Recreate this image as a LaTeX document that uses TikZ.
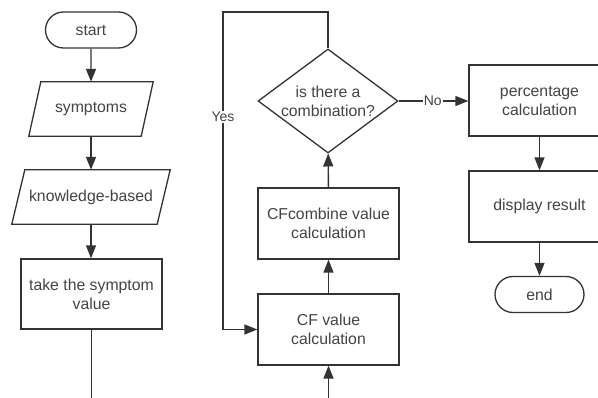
\documentclass[tikz,border=0pt]{standalone}
\usepackage{fontspec}
\setmainfont{Liberation Sans}
\usetikzlibrary{shapes.geometric,shapes.misc,arrows.meta}
\definecolor{ln}{HTML}{333333}
\definecolor{tx}{HTML}{444444}
\tikzset{
  every node/.style={font=\fontsize{15.8}{19}\selectfont, text=tx, align=center},
  conn/.style={draw=ln, line width=1.4pt},
  arr/.style={conn, -{Triangle[length=13pt,width=10pt]}},
  outline/.style={draw=ln, line width=1.3pt, line join=miter},
  term/.style={draw=ln, line width=1.3pt, rounded rectangle, minimum width=89pt, minimum height=36pt, inner sep=0pt},
  io/.style={rectangle, minimum height=54pt, inner sep=0pt},
  proc/.style={draw=ln, line width=1.3pt, rectangle, minimum width=141pt, minimum height=71pt, inner sep=0pt},
  dec/.style={draw=ln, line width=1.3pt, diamond, minimum width=140pt, minimum height=104pt, inner sep=0pt},
  lab/.style={fill=white, inner sep=1pt, font=\fontsize{14}{16}\selectfont}
}
\begin{document}
\begin{tikzpicture}[x=1pt,y=-1pt]
\useasboundingbox[fill=white] (0,0) rectangle (598,398);
% left column
\node[term, minimum width=91pt] (start) at (91,30) {start};
\node[io, minimum width=112pt] (sym) at (91,109) {symptoms};
\draw[outline] ([xshift=-6pt]sym.south west) -- ([xshift=6pt]sym.north west) -- ([xshift=6pt]sym.north east) -- ([xshift=-6pt]sym.south east) -- cycle;
\node[io, minimum width=145pt] (kb) at (91,197) {knowledge-based};
\draw[outline] ([xshift=-6.5pt]kb.south west) -- ([xshift=6.5pt]kb.north west) -- ([xshift=6.5pt]kb.north east) -- ([xshift=-6.5pt]kb.south east) -- cycle;
\node[proc, minimum height=70pt] (take) at (91.5,294) {take the symptom\\value};
\coordinate (bl) at (91.5,400);
% middle column
\node[dec] (dia) at (328,101) {};
\node (diatext) at (328,101) {is there a\\combination?};
\node[proc] (cfc) at (328.5,223.5) {CFcombine value\\calculation};
\node[proc] (cf) at (328.5,329.5) {CF value\\calculation};
\coordinate (br) at (328.5,400);
\coordinate (tl) at (223,12);
% right column
\node[proc] (perc) at (539.5,100.5) {percentage\\calculation};
\node[proc] (disp) at (539.5,206.5) {display result};
\node[term] (end) at (539.5,294.5) {end};
% connectors
\draw[arr] (start) -- (sym);
\draw[arr] (sym) -- (kb);
\draw[arr] (kb) -- (take.north -| kb.south);
\draw[conn] (take) -- (bl);
\draw[arr] (br) -- (cf);
\draw[arr] (cf) -- (cfc);
\draw[arr] (cfc) -- (dia);
\draw[arr] (dia.north) |- (tl) -- node[lab, pos=0.33] (yes) {Yes} (tl |- cf.west) -- (cf.west);
\draw[arr] (dia.east) -- node[lab, pos=0.49] (no) {No} (dia.east -| perc.west);
\draw[arr] (perc) -- (disp);
\draw[arr] (disp) -- (end);
\end{tikzpicture}
\end{document}
